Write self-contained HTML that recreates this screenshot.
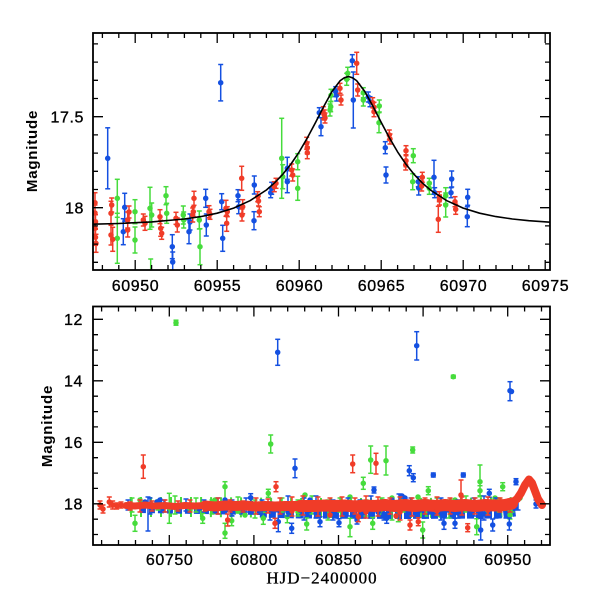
<!DOCTYPE html>
<html><head><meta charset="utf-8"><style>
html,body{margin:0;padding:0;background:#fff;}
svg{display:block;}
.tl{font-family:"Liberation Sans",sans-serif;font-size:16px;letter-spacing:0.6px;fill:#000;stroke:#000;stroke-width:0.35px;}
.yl{font-family:"Liberation Sans",sans-serif;font-size:15px;font-weight:bold;letter-spacing:0.8px;fill:#000;}
.xl{font-family:"Liberation Serif",serif;font-size:17px;letter-spacing:1px;fill:#000;stroke:#000;stroke-width:0.3px;}
</style></head><body>
<svg width="600" height="600" viewBox="0 0 600 600" xmlns="http://www.w3.org/2000/svg">
<defs>
<clipPath id="c1"><rect x="93" y="33" width="457" height="237"/></clipPath>
<clipPath id="c2"><rect x="93" y="306.5" width="457" height="238.5"/></clipPath>
<marker id="mr" markerUnits="userSpaceOnUse" markerWidth="8" markerHeight="4" refX="4" refY="2" orient="0" overflow="visible"><path d="M1.5 2H6.5" stroke="#f03c28" stroke-width="1.5"/></marker>
<marker id="mb" markerUnits="userSpaceOnUse" markerWidth="8" markerHeight="4" refX="4" refY="2" orient="0" overflow="visible"><path d="M1.5 2H6.5" stroke="#1450e1" stroke-width="1.5"/></marker>
<marker id="mg" markerUnits="userSpaceOnUse" markerWidth="8" markerHeight="4" refX="4" refY="2" orient="0" overflow="visible"><path d="M1.5 2H6.5" stroke="#46dc3c" stroke-width="1.5"/></marker>
</defs>
<rect width="600" height="600" fill="#fff"/>

<!-- ================= TOP PANEL ================= -->
<g clip-path="url(#c1)">
<path fill="none" stroke="#46dc3c" stroke-width="1.5" marker-start="url(#mg)" marker-mid="url(#mg)" marker-end="url(#mg)" d="M117.3 179.3V217.3M117.3 213.3V263.3M135 199.7V223.7M135 227V253M150 187.3V229.3M151.7 203V227M150.7 259V285M166 186.7V204.7M166.7 203.3V223.3M183.3 206V224M183.7 212V228M199.3 211V229M200 228.7V264.7M281.7 118.3V198.3M282.7 164.7V188.7M297.7 153.7V169.7M297.7 176.3V200.3M330 104V116M331 89.3V101.3M330.7 101.7V111.7M347.7 67.3V79.3M346.7 73.3V85.3M363.3 87.7V97.7M363.3 94V106M379.3 100V112M379 112.7V132.7M413.3 148.7V162.7M412.7 173.7V189.7M429.3 178.3V188.3M429.3 182.3V194.3M445.7 187.7V203.7M445.7 193V217"/>
<path fill="none" stroke="#46dc3c" stroke-width="5.5" stroke-linecap="round" d="M117.3 198.3h0M117.3 238.3h0M135 211.7h0M135 240h0M150 208.3h0M151.7 215h0M150.7 272h0M166 195.7h0M166.7 213.3h0M183.3 215h0M183.7 220h0M199.3 220h0M200 246.7h0M281.7 158.3h0M282.7 176.7h0M297.7 161.7h0M297.7 188.3h0M330 110h0M331 95.3h0M330.7 106.7h0M347.7 73.3h0M346.7 79.3h0M363.3 92.7h0M363.3 100h0M379.3 106h0M379 122.7h0M413.3 155.7h0M412.7 181.7h0M429.3 183.3h0M429.3 188.3h0M445.7 195.7h0M445.7 205h0"/>
<path fill="none" stroke="#1450e1" stroke-width="1.5" marker-start="url(#mb)" marker-mid="url(#mb)" marker-end="url(#mb)" d="M107.7 127.8V188.8M220.7 64.5V100.9M124.7 193.3V221.3M123.3 218.7V244.7M172.3 234.7V258.7M172.7 252V272M189 219.7V243.7M190 214V230M205.7 189.3V207.3M206.3 214V236M221.7 193.7V209.7M222.7 225.3V251.3M238 189.7V201.7M238.7 199.7V213.7M254.3 176V194M254 211.7V229.7M270.7 187.7V197.7M287.3 157.3V179.3M287.3 170.7V192.7M271.7 182.3V194.3M319.3 107.7V117.7M321 117.7V135.7M335.7 86.7V96.7M336.7 89V101M352.3 54.7V66.7M353.3 72V128M368.3 92V102M370 96.7V106.7M385.3 141.7V153.7M386 167V183M418.3 176.7V186.7M418.7 181V195M434 160.3V194.3M434.7 187.7V197.7M451.7 171V187M451 187.7V197.7M467.7 189.3V205.3M467.3 206.7V226.7"/>
<path fill="none" stroke="#1450e1" stroke-width="5.5" stroke-linecap="round" d="M107.7 158.3h0M220.7 82.7h0M124.7 207.3h0M123.3 231.7h0M172.3 246.7h0M172.7 262h0M189 231.7h0M190 222h0M205.7 198.3h0M206.3 225h0M221.7 201.7h0M222.7 238.3h0M238 195.7h0M238.7 206.7h0M254.3 185h0M254 220.7h0M270.7 192.7h0M287.3 168.3h0M287.3 181.7h0M271.7 188.3h0M319.3 112.7h0M321 126.7h0M335.7 91.7h0M336.7 95h0M352.3 60.7h0M353.3 100h0M368.3 97h0M370 101.7h0M385.3 147.7h0M386 175h0M418.3 181.7h0M418.7 188h0M434 177.3h0M434.7 192.7h0M451.7 179h0M451 192.7h0M467.7 197.3h0M467.3 216.7h0"/>
<path fill="none" stroke="#f03c28" stroke-width="1.5" marker-start="url(#mr)" marker-mid="url(#mr)" marker-end="url(#mr)" d="M95 192.7V212.7M95 205V221M95.5 214.7V228.7M95 220.3V236.3M95.5 229.3V245.3M96 234.3V252.3M111.7 198V212M111 201.3V225.3M111 225V245M112.7 227.3V251.3M127.7 212V228M127.7 223V237M129 206V218M143.3 214V226M145 216.3V230.3M160 209.7V223.7M160.7 220.3V236.3M161.7 227.3V239.3M176 212.3V224.3M177.3 218V232M194 191.3V205.3M192.7 208V222M193.3 206.7V216.7M209 205.7V217.7M210 209.3V219.3M226 200.3V216.3M226.7 215.3V231.3M227.3 206.7V216.7M241.7 166.3V190.3M242.7 199.7V213.7M242 209V221M257.7 191.7V201.7M259.3 206.7V216.7M258.5 196V206M274.3 181.7V191.7M276 178.3V188.3M291.7 164V176M292.7 169V181M306.7 137.3V149.3M307.3 142V154M307.3 146.7V158.7M323.3 106.7V118.7M324.3 110V120M325 113V123M340 83.3V93.3M341 95V105M356.7 52.3V74.3M357.7 84V96M372.7 97.7V107.7M374 102.3V112.3M374 106.7V116.7M389.3 130V140M390 134V144M406 145.7V155.7M406 154.7V166.7M405.7 160V170M422.3 172.3V182.3M421.7 181V191M439.3 191.7V201.7M438.3 206.3V232.3M439.5 195V205M455 196.7V206.7M455.7 204.3V214.3"/>
<path fill="none" stroke="#f03c28" stroke-width="5.5" stroke-linecap="round" d="M95 202.7h0M95 213h0M95.5 221.7h0M95 228.3h0M95.5 237.3h0M96 243.3h0M111.7 205h0M111 213.3h0M111 235h0M112.7 239.3h0M127.7 220h0M127.7 230h0M129 212h0M143.3 220h0M145 223.3h0M160 216.7h0M160.7 228.3h0M161.7 233.3h0M176 218.3h0M177.3 225h0M194 198.3h0M192.7 215h0M193.3 211.7h0M209 211.7h0M210 214.3h0M226 208.3h0M226.7 223.3h0M227.3 211.7h0M241.7 178.3h0M242.7 206.7h0M242 215h0M257.7 196.7h0M259.3 211.7h0M258.5 201h0M274.3 186.7h0M276 183.3h0M291.7 170h0M292.7 175h0M306.7 143.3h0M307.3 148h0M307.3 152.7h0M323.3 112.7h0M324.3 115h0M325 118h0M340 88.3h0M341 100h0M356.7 63.3h0M357.7 90h0M372.7 102.7h0M374 107.3h0M374 111.7h0M389.3 135h0M390 139h0M406 150.7h0M406 160.7h0M405.7 165h0M422.3 177.3h0M421.7 186h0M439.3 196.7h0M438.3 219.3h0M439.5 200h0M455 201.7h0M455.7 209.3h0"/>
<polyline fill="none" stroke="#000" stroke-width="1.6" stroke-linejoin="round" points="92.6,224.2 118.8,223.5 151.6,221.9 184.4,219.0 200.8,216.6 217.2,213.2 233.6,208.1 250.0,200.7 266.4,190.0 274.6,182.8 282.8,174.3 291,164 299.2,151.9 307.4,137.8 315.6,122.4 323.8,106.4 332.0,91.5 340.2,80.6 344.3,77.8 348.4,76.5 352.5,77.8 356.6,80.6 364.8,91.5 373.0,106.4 381.2,122.4 389.4,137.8 397.6,151.9 405.8,164 414.0,174.3 422.2,182.8 430.4,190.0 446.8,200.7 463.2,208.1 479.6,213.2 496.0,216.6 512.4,219.0 528.8,220.7 550.1,222.2"/>
</g>

<rect x="93" y="33" width="457" height="237" fill="none" stroke="#000" stroke-width="1.8"/>
<path fill="none" stroke="#000" stroke-width="1.3" d="M102.4 270v-5M118.8 270v-5M151.6 270v-5M168 270v-5M184.4 270v-5M200.8 270v-5M233.6 270v-5M250 270v-5M266.4 270v-5M282.8 270v-5M315.6 270v-5M332 270v-5M348.4 270v-5M364.8 270v-5M397.6 270v-5M414 270v-5M430.4 270v-5M446.8 270v-5M479.6 270v-5M496 270v-5M512.4 270v-5M528.8 270v-5M135.2 270v-10M217.2 270v-10M299.2 270v-10M381.2 270v-10M463.2 270v-10M545.2 270v-10
M102.4 33v5M118.8 33v5M151.6 33v5M168 33v5M184.4 33v5M200.8 33v5M233.6 33v5M250 33v5M266.4 33v5M282.8 33v5M315.6 33v5M332 33v5M348.4 33v5M364.8 33v5M397.6 33v5M414 33v5M430.4 33v5M446.8 33v5M479.6 33v5M496 33v5M512.4 33v5M528.8 33v5M135.2 33v10M217.2 33v10M299.2 33v10M381.2 33v10M463.2 33v10M545.2 33v10
M93 43.9h5M93 62.1h5M93 80.3h5M93 98.5h5M93 134.9h5M93 153.1h5M93 171.3h5M93 189.5h5M93 225.9h5M93 244.1h5M93 262.3h5M93 116.7h10M93 207.7h10
M550 43.9h-5M550 62.1h-5M550 80.3h-5M550 98.5h-5M550 134.9h-5M550 153.1h-5M550 171.3h-5M550 189.5h-5M550 225.9h-5M550 244.1h-5M550 262.3h-5M550 116.7h-10M550 207.7h-10"/>
<g class="tl" text-anchor="middle">
<text x="135.5" y="291">60950</text>
<text x="217.5" y="291">60955</text>
<text x="299.5" y="291">60960</text>
<text x="381.5" y="291">60965</text>
<text x="463.5" y="291">60970</text>
<text x="545.5" y="291">60975</text>
</g>
<g class="tl" text-anchor="end">
<text x="84" y="122.5">17.5</text>
<text x="84" y="213.5">18</text>
</g>
<text class="yl" text-anchor="middle" transform="translate(37,151) rotate(-90)">Magnitude</text>

<!-- ================= BOTTOM PANEL ================= -->
<g clip-path="url(#c2)">
<polyline fill="none" stroke="#46dc3c" stroke-width="20" stroke-dasharray="2 8" points="130,507 200,507 300,508 400,508 500,507.5 512,507"/>
<polyline fill="none" stroke="#1450e1" stroke-width="10" stroke-dasharray="6 3" points="140,508 200,509 260,510"/>
<polyline fill="none" stroke="#1450e1" stroke-width="15" stroke-dasharray="7 2" points="260,510 300,511 400,511.5 500,511 515,509"/>
<path fill="none" stroke="#46dc3c" stroke-width="1.5" marker-start="url(#mg)" marker-mid="url(#mg)" marker-end="url(#mg)" d="M176 320.2V325.2M270.7 435V453M135 515.3V531.3M169.3 493.3V523.3M225 481.7V500M225 523.3V538.3M202.7 513.3V523.3M231.7 515.7V525.7M263.3 512.3V524.3M287.3 510.7V522.7M268.3 489.3V497.3M453.3 375.2V378.2M370.7 446V473.3M386 446V475M412.7 447V453M480 465V496.7M480 485.7V495.7M363.3 477.3V489.3M428.3 486.7V494.7M502.7 482.7V490.7M476.7 518.7V534.7M422.7 522V538M398.3 511.7V521.7M306.7 518V530M350 518.3V536.7M372.7 517.3V529.3M510 511V519
M132 498V512M158 500V510M175 496V514M196 498V512M212 500V514M238 497V513M255 500V518M282 498V512M298 500V516M312 496V514M328 500V520M340 498V512M366 500V516M382 498V514M392 500V520M403 496V512M426 500V516M437 498V512M449 500V518M466 496V512M486 500V514M498 498V512M512 500V512"/>
<path fill="none" stroke="#46dc3c" stroke-width="5.5" stroke-linecap="round" d="M176 322.7h0M270.7 444h0M135 523.3h0M169.3 508h0M225 486.7h0M225 533h0M202.7 518.3h0M231.7 520.7h0M263.3 518.3h0M287.3 516.7h0M268.3 493.3h0M453.3 376.7h0M370.7 460h0M386 460.7h0M412.7 450h0M480 481.7h0M480 490.7h0M363.3 483.3h0M428.3 490.7h0M502.7 486.7h0M476.7 526.7h0M422.7 530h0M398.3 516.7h0M306.7 524h0M350 526.7h0M372.7 523.3h0M510 515h0M140 500h0M190 510h0M215 500h0M245 515h0M305 495h0M330 515h0M440 515h0M455 500h0M495 498h0M520 498h0M158 503h0M238 511h0M298 512h0M366 511h0M426 511h0M486 510h0M350 497h0M392 498h0M418 497h0"/>
<path fill="none" stroke="#1450e1" stroke-width="1.5" marker-start="url(#mb)" marker-mid="url(#mb)" marker-end="url(#mb)" d="M277.7 339.3V365.3M295 459V477.7M148 497V531M250.7 493.7V501.7M278.3 511.7V531.7M291.7 523.3V533.3M416.7 331.7V360M510 381.7V400.7M409.3 465.7V475.7M433.3 473V477M463.3 473V477M516 478.7V484.7M374 487V493M413.3 473.7V481.7M489.3 489.3V497.3M480.7 518.3V540M444 517.3V529.3M455 518.3V528.3M320 516.7V526.7M339 518.7V526.7M357 516V524M386.7 513.3V523.3M509.3 518V530M492.7 519V531
M128 500V510M150 498V514M164 500V512M186 499V511M204 500V512M218 498V514M232 500V516M246 498V512M262 500V514M270 502V520M288 496V516M304 498V520M316 496V518M333 500V520M348 498V516M360 500V518M371 496V516M384 500V520M399 494V518M411 498V516M424 500V518M441 498V520M458 500V518M474 498V516M484 496V520M496 498V518M506 500V518M518 500V510M536 500V508"/>
<path fill="none" stroke="#1450e1" stroke-width="5.5" stroke-linecap="round" d="M277.7 352.3h0M295 468.3h0M148 505h0M250.7 497.7h0M278.3 521.7h0M291.7 528.3h0M416.7 345.7h0M510 390.7h0M511.5 391.5h0M409.3 470.7h0M433.3 475h0M463.3 475h0M516 481.7h0M374 490h0M413.3 477.7h0M489.3 493.3h0M480.7 530h0M444 523.3h0M455 523.3h0M320 521.7h0M339 522.7h0M357 520h0M386.7 518.3h0M509.3 524h0M492.7 525h0M160 500h0M157 502h0M180 505h0M225 500h0M226 510h0M275 508h0M300 510h0M310 500h0M325 505h0M345 510h0M362 512h0M378 512h0M395 505h0M405 498h0M420 510h0M430 512h0M448 510h0M470 512h0M500 510h0M515 508h0M145 502h0M200 508h0M288 512h0M316 513h0M333 514h0M371 513h0M384 514h0M441 514h0M458 513h0M484 514h0M536 504h0M402 496h0M392 500h0"/>
<polyline fill="none" stroke="#f03c28" stroke-width="7" stroke-linecap="round" stroke-linejoin="round" points="126,505.5 135,506 145,505 155,506 165,505.5 175,506.5 185,505.5 195,506 205,505.5"/>
<polyline fill="none" stroke="#f03c28" stroke-width="10" stroke-linecap="round" stroke-linejoin="round" points="205,505.5 215,506.5 225,505.5 235,506 245,505.5 255,506.5 265,506 275,506.5 285,506 300,506"/>
<polyline fill="none" stroke="#f03c28" stroke-width="12" stroke-linecap="round" stroke-linejoin="round" points="300,506 315,506 325,505.5 335,506 345,505.5 355,506.5 365,505.5 375,506 385,505 395,506 405,505 415,506 425,505 435,506 445,505 455,506 465,505 475,506 485,505 495,505.5 505,505 512,503.5"/>
<polyline fill="none" stroke="#f03c28" stroke-width="8" stroke-linecap="round" stroke-linejoin="round" points="510,504 517,499 521,493 525,485 529,479.5 532,483 535,491 538,499 542,505"/>
<path fill="none" stroke="#f03c28" stroke-width="1.5" marker-start="url(#mr)" marker-mid="url(#mr)" marker-end="url(#mr)" d="M143.3 455V478.3M276 481.7V491.7M275 518.3V528.3M227.7 514V526M352.7 455V472.7M376 453.3V474M461 480V506.7M467.7 523.7V531.7M418.3 517.7V525.7M410 520V530M358.3 511.7V521.7M100 501V509M103 505V513M109.3 497V507M112.7 501V509M116.7 503V509M121 502V508
M130 502V510M140 500V512M152 501V511M165 500V512M178 501V511M190 500V512M205 502V511M218 498V514M230 500V512M243 501V512M256 498V514M268 499V513M280 498V514M292 497V516M303 496V515M318 497V516M330 498V514M342 497V516M355 498V514M366 496V518M378 497V516M390 498V514M400 497V520M412 498V516M425 498V514M437 497V515M450 498V514M462 497V515M475 498V514M488 497V515M500 498V512M510 499V512"/>
<path fill="none" stroke="#f03c28" stroke-width="5.5" stroke-linecap="round" d="M143.3 466.7h0M276 486.7h0M275 523.3h0M227.7 520h0M352.7 464h0M376 463.3h0M461 495h0M467.7 527.7h0M418.3 521.7h0M410 525h0M358.3 516.7h0M100 505h0M103 509h0M109.3 502h0M112.7 505h0M116.7 506h0M121 505h0M292 511h0M366 512h0M400 512h0M437 511h0M488 510h0M330 515h0M396 516h0"/>
</g>

<rect x="93" y="306.5" width="457" height="238.5" fill="none" stroke="#000" stroke-width="1.8"/>
<path fill="none" stroke="#000" stroke-width="1.3" d="M101.6 545v-5M118.5 545v-5M135.5 545v-5M152.4 545v-5M186.2 545v-5M203.1 545v-5M220.1 545v-5M237 545v-5M270.8 545v-5M287.7 545v-5M304.7 545v-5M321.6 545v-5M355.4 545v-5M372.3 545v-5M389.3 545v-5M406.2 545v-5M440 545v-5M456.9 545v-5M473.9 545v-5M490.8 545v-5M524.6 545v-5M541.5 545v-5M169.3 545v-10M253.9 545v-10M338.5 545v-10M423.1 545v-10M507.7 545v-10
M101.6 306.5v5M118.5 306.5v5M135.5 306.5v5M152.4 306.5v5M186.2 306.5v5M203.1 306.5v5M220.1 306.5v5M237 306.5v5M270.8 306.5v5M287.7 306.5v5M304.7 306.5v5M321.6 306.5v5M355.4 306.5v5M372.3 306.5v5M389.3 306.5v5M406.2 306.5v5M440 306.5v5M456.9 306.5v5M473.9 306.5v5M490.8 306.5v5M524.6 306.5v5M541.5 306.5v5M169.3 306.5v10M253.9 306.5v10M338.5 306.5v10M423.1 306.5v10M507.7 306.5v10
M93 334.7h5M93 350.1h5M93 365.4h5M93 396.2h5M93 411.6h5M93 426.9h5M93 457.7h5M93 473.1h5M93 488.4h5M93 519.2h5M93 534.5h5M93 319.3h10M93 380.8h10M93 442.3h10M93 503.8h10
M550 334.7h-5M550 350.1h-5M550 365.4h-5M550 396.2h-5M550 411.6h-5M550 426.9h-5M550 457.7h-5M550 473.1h-5M550 488.4h-5M550 519.2h-5M550 534.5h-5M550 319.3h-10M550 380.8h-10M550 442.3h-10M550 503.8h-10"/>
<g class="tl" text-anchor="middle">
<text x="169.6" y="565">60750</text>
<text x="254.2" y="565">60800</text>
<text x="338.8" y="565">60850</text>
<text x="423.4" y="565">60900</text>
<text x="508" y="565">60950</text>
</g>
<g class="tl" text-anchor="end">
<text x="83" y="325">12</text>
<text x="83" y="386.5">14</text>
<text x="83" y="448">16</text>
<text x="83" y="509.5">18</text>
</g>
<text class="yl" text-anchor="middle" transform="translate(52,426) rotate(-90)">Magnitude</text>
<text class="xl" text-anchor="middle" x="322" y="583.5">HJD−2400000</text>
</svg>
</body></html>
